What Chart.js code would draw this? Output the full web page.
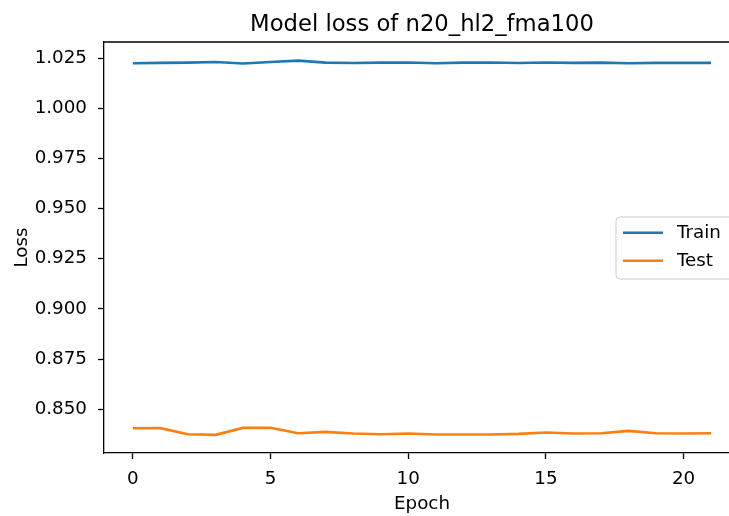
<!DOCTYPE html>
<html>
<head>
<meta charset="utf-8">
<script src="https://cdn.jsdelivr.net/npm/chart.js@4"></script>
<style>
html,body{margin:0;padding:0;background:#fff;overflow:hidden;width:729px;height:516px;}
#wrap{position:absolute;left:0;top:0;width:740px;height:516px;}
</style>
</head>
<body>
<div id="wrap"><canvas id="c" width="740" height="516"></canvas></div>
<script>
const epochs = [0,1,2,3,4,5,6,7,8,9,10,11,12,13,14,15,16,17,18,19,20,21];
const trainLoss = [1.0224,1.0226,1.0227,1.0230,1.0223,1.0230,1.0237,1.0227,1.0225,1.0227,1.0228,1.0224,1.0227,1.0228,1.0225,1.0228,1.0226,1.0227,1.0224,1.0226,1.0226,1.0226];
const testLoss = [0.84055,0.84060,0.83757,0.83724,0.84072,0.84075,0.83807,0.83873,0.83790,0.83757,0.83790,0.83740,0.83740,0.83740,0.83773,0.83840,0.83790,0.83807,0.83923,0.83807,0.83790,0.83807];
const xTicks = [0,5,10,15,20];
const yTicks = [0.850,0.875,0.900,0.925,0.950,0.975,1.000,1.025];
const seriesNames = ['Train','Test'];
const titleText = 'Model loss of n20_hl2_fma100';
const xLabel = 'Epoch';
const yLabel = 'Loss';

const FONT = 'DejaVu Sans';
const TICK_SIZE = 18.3;
const colors = ['#1f77b4','#ff7f0e'];

const decor = {
  id:'decor',
  afterDraw(chart){
    const ctx = chart.ctx, a = chart.chartArea;
    ctx.save();
    ctx.strokeStyle = '#000'; ctx.lineWidth = 1.3;
    ctx.beginPath();
    ctx.moveTo(a.left, a.top); ctx.lineTo(a.right, a.top); ctx.lineTo(a.right, a.bottom);
    ctx.stroke();
    ctx.fillStyle = '#000';
    ctx.textAlign = 'center'; ctx.textBaseline = 'alphabetic';
    ctx.font = '22.7px "' + FONT + '"';
    ctx.fillText(titleText, (a.left + a.right)/2, 31);
    ctx.font = TICK_SIZE + 'px "' + FONT + '"';
    ctx.fillText(xLabel, (a.left + a.right)/2, 509.3);
    ctx.save();
    ctx.translate(26.7, (a.top + a.bottom)/2);
    ctx.rotate(-Math.PI/2);
    ctx.fillText(yLabel, 0, 0);
    ctx.restore();
    const bx = 616, by = 217, bw = 118, bh = 62, r = 4;
    ctx.beginPath();
    ctx.moveTo(bx + r, by);
    ctx.lineTo(bx + bw - r, by); ctx.arcTo(bx + bw, by, bx + bw, by + r, r);
    ctx.lineTo(bx + bw, by + bh - r); ctx.arcTo(bx + bw, by + bh, bx + bw - r, by + bh, r);
    ctx.lineTo(bx + r, by + bh); ctx.arcTo(bx, by + bh, bx, by + bh - r, r);
    ctx.lineTo(bx, by + r); ctx.arcTo(bx, by, bx + r, by, r);
    ctx.closePath();
    ctx.fillStyle = 'rgba(255,255,255,0.8)'; ctx.fill();
    ctx.strokeStyle = '#cccccc'; ctx.lineWidth = 1; ctx.stroke();
    const rows = [232.7, 260.7];
    seriesNames.forEach((n,i)=>{
      ctx.strokeStyle = colors[i]; ctx.lineWidth = 2.6;
      ctx.beginPath(); ctx.moveTo(623, rows[i]); ctx.lineTo(663, rows[i]); ctx.stroke();
      ctx.fillStyle = '#000'; ctx.textAlign = 'left'; ctx.textBaseline = 'middle';
      ctx.fillText(n, 677, rows[i] + 1);
    });
    ctx.restore();
  }
};

new Chart(document.getElementById('c'), {
  type:'line',
  data:{
    datasets:[
      {label:seriesNames[0], data:epochs.map((e,i)=>({x:e,y:trainLoss[i]})), borderColor:colors[0], borderWidth:2.6, pointRadius:0, tension:0, fill:false},
      {label:seriesNames[1], data:epochs.map((e,i)=>({x:e,y:testLoss[i]})), borderColor:colors[1], borderWidth:2.6, pointRadius:0, tension:0, fill:false}
    ]
  },
  options:{
    responsive:false, animation:false, devicePixelRatio:1,
    layout:{padding:{top:42,left:0,right:0,bottom:0}},
    plugins:{legend:{display:false}, title:{display:false}, tooltip:{enabled:false}},
    scales:{
      x:{
        type:'linear', min:-1.05, max:22.05,
        afterBuildTicks(s){ s.ticks = xTicks.map(v=>({value:v})); },
        afterFit(s){ s.height = 63; },
        grid:{drawOnChartArea:false, drawTicks:true, tickLength:6, color:'#000', tickWidth:1.3},
        border:{display:true, color:'#000', width:1.3},
        ticks:{color:'#000', font:{family:FONT, size:TICK_SIZE}, padding:9, maxRotation:0, autoSkip:false, callback:v=>String(v)}
      },
      y:{
        type:'linear', min:0.8282, max:1.0330,
        afterBuildTicks(s){ s.ticks = yTicks.map(v=>({value:v})); },
        afterFit(s){ s.width = 104; },
        grid:{drawOnChartArea:false, drawTicks:true, tickLength:6, color:'#000', tickWidth:1.3},
        border:{display:true, color:'#000', width:1.3},
        ticks:{color:'#000', font:{family:FONT, size:TICK_SIZE}, padding:11, autoSkip:false, callback:v=>v.toFixed(3)}
      }
    }
  },
  plugins:[decor]
});
</script>
</body>
</html>
